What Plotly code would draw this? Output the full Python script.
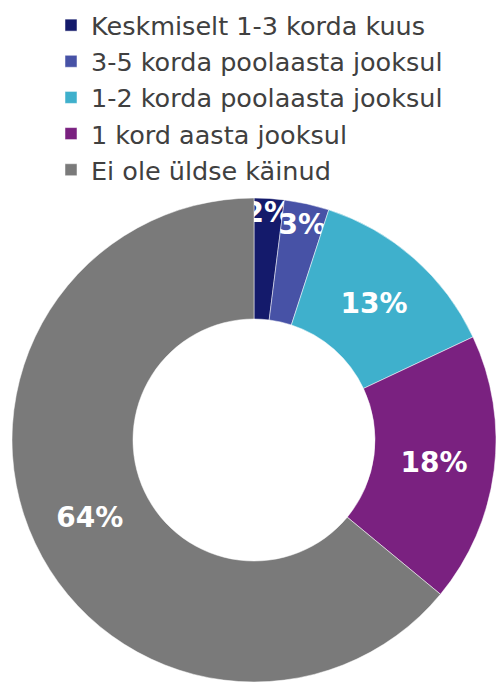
import plotly.graph_objects as go

categories = ["Keskmiselt 1-3 korda kuus", "3-5 korda poolaasta jooksul",
              "1-2 korda poolaasta jooksul", "1 kord aasta jooksul",
              "Ei ole üldse käinud"]
values = [2, 3, 13, 18, 64]
colors = ["#141a6b", "#4752a6", "#3fb0cc", "#7a2180", "#7a7a7a"]

fig = go.Figure(go.Pie(
    labels=categories, values=values, hole=0.5, sort=False,
    direction="clockwise", rotation=0,
    domain=dict(x=[12 / 496, 1.0], y=[0.0, 484 / 682]),
    marker=dict(colors=colors, line=dict(color="white", width=0.5)),
    texttemplate="%{percent:.0%}", textposition="inside",
    insidetextorientation="horizontal",
    textfont=dict(family="DejaVu Sans", size=28, color="white", weight="bold"),
    hoverinfo="label+percent",
))
fig.update_layout(
    width=496, height=682,
    margin=dict(l=0, r=0, t=0, b=0, autoexpand=False),
    paper_bgcolor="white", plot_bgcolor="white",
    uniformtext=dict(minsize=28, mode="show"),
    showlegend=True,
    legend=dict(x=51 / 496, xanchor="left", y=0.997, yanchor="top",
                font=dict(family="DejaVu Sans", size=25.5, color="#404040"),
                bgcolor="rgba(0,0,0,0)", traceorder="normal"),
)
fig.write_html("out.html", config={"displayModeBar": False},
               post_script="document.body.style.margin='0px';")
